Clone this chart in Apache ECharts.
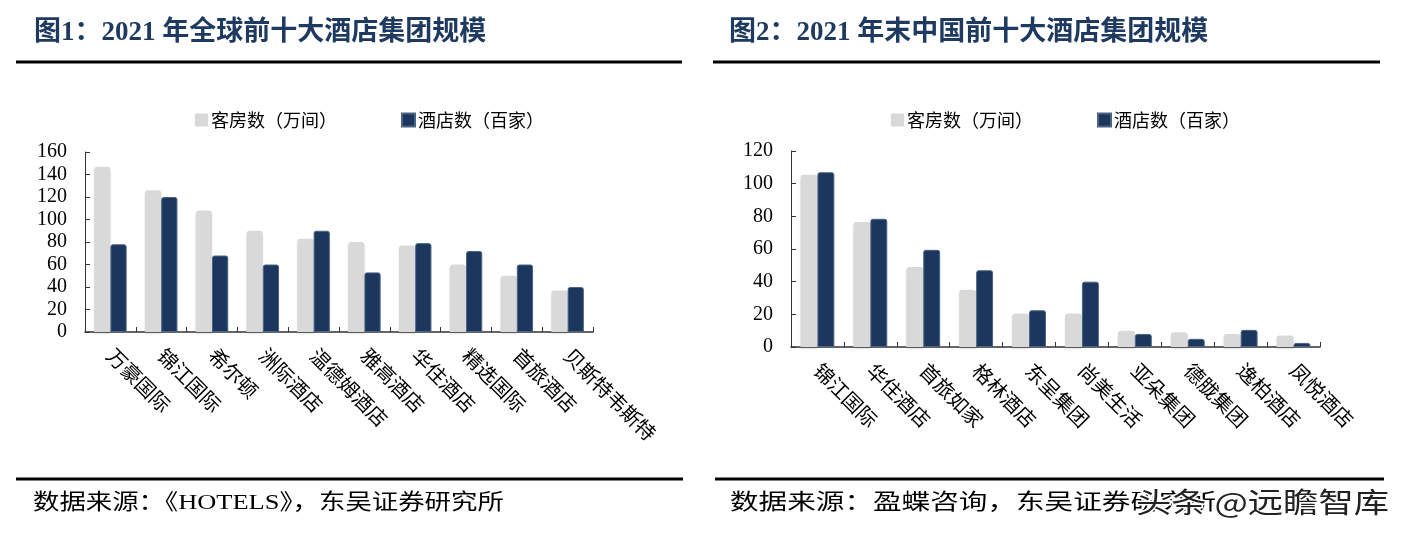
<!DOCTYPE html>
<html>
<head>
<meta charset="utf-8">
<script src="https://cdn.jsdelivr.net/npm/echarts@6/dist/echarts.min.js"></script>
<style>
  html, body { margin: 0; padding: 0; background: #fff; }
  #main { width: 1407px; height: 543px; }
</style>
</head>
<body>
<div id="main"></div>
<script>
// fig 1: global top-10 hotel groups, 2021
const globalGroups = ["万豪国际", "锦江国际", "希尔顿", "洲际酒店", "温德姆酒店", "雅高酒店", "华住酒店", "精选国际", "首旅酒店", "贝斯特韦斯特"];
const globalRooms = [147, 126, 108, 90, 83, 80, 77, 60, 50, 37];   // 万间
const globalHotels = [78, 120, 68, 60, 90, 53, 79, 72, 60, 40];    // 百家

// fig 2: China top-10 hotel groups, end of 2021
const chinaGroups = ["锦江国际", "华住酒店", "首旅如家", "格林酒店", "东呈集团", "尚美生活", "亚朵集团", "德胧集团", "逸柏酒店", "凤悦酒店"];
const chinaRooms = [105.5, 76.5, 49, 35, 20.5, 20.5, 10, 9, 8, 7];
const chinaHotels = [107, 78.5, 59.5, 47, 22.5, 40, 8, 5, 10.5, 2.5];

const globalAxis = { min: 0, max: 160, interval: 20 };
const chinaAxis = { min: 0, max: 120, interval: 20 };

const seriesNames = ["客房数（万间）", "酒店数（百家）"];

const GREY = "#d9d9d9";
const NAVY = "#1b375d";
const TITLE_COLOR = "#1f3a60";
const SERIF = "'Liberation Serif', 'Times New Roman', 'Noto Sans CJK SC', serif";
const CJK = "'Noto Sans CJK SC', 'Liberation Serif', sans-serif";

const myChart = echarts.init(document.getElementById("main"));

function xAxisFor(gridIndex, data) {
  return {
    type: "category",
    gridIndex: gridIndex,
    data: data,
    axisLine: { show: true, lineStyle: { color: "#333", width: 1.5 } },
    axisTick: { show: true, inside: true, length: 5, lineStyle: { color: "#333" } },
    axisLabel: {
      interval: 0,
      rotate: -45,
      margin: 20,
      fontSize: 20,
      color: "#000",
      fontFamily: CJK,
    },
    splitLine: { show: false },
  };
}

function yAxisFor(gridIndex, cfg) {
  return {
    type: "value",
    gridIndex: gridIndex,
    min: cfg.min,
    max: cfg.max,
    interval: cfg.interval,
    axisLine: { show: true, lineStyle: { color: "#333", width: 1 } },
    axisTick: { show: true, inside: true, length: 5, lineStyle: { color: "#333" } },
    axisLabel: { fontSize: 20, color: "#000", fontFamily: SERIF, margin: 18 },
    splitLine: { show: false },
  };
}

function barsFor(axisIndex, rooms, hotels) {
  return [
    {
      name: seriesNames[0],
      type: "bar",
      xAxisIndex: axisIndex,
      yAxisIndex: axisIndex,
      data: rooms,
      barWidth: "32%",
      barGap: "0%",
      itemStyle: {
        color: GREY,
        borderRadius: [3, 3, 0, 0],
        shadowColor: "rgba(0,0,0,0.12)",
        shadowBlur: 2,
        shadowOffsetY: 2,
      },
      z: 2,
    },
    {
      name: seriesNames[1],
      type: "bar",
      xAxisIndex: axisIndex,
      yAxisIndex: axisIndex,
      data: hotels,
      barWidth: "32%",
      itemStyle: {
        color: NAVY,
        borderColor: "#4d6384",
        borderWidth: 1,
        borderRadius: [2, 2, 0, 0],
      },
      z: 3,
    },
  ];
}

function legendFor(left) {
  return {
    left: left,
    top: 106,
    itemWidth: 13,
    itemHeight: 13,
    itemGap: 64,
    icon: "rect",
    data: seriesNames,
    textStyle: { fontSize: 18, color: "#000", fontFamily: CJK, padding: [0, 0, 0, -2] },
  };
}

const options = {
  animation: false,
  backgroundColor: "#fff",
  legend: [legendFor(190), legendFor(886)],
  grid: [
    { left: 85, top: 152, width: 508, height: 180 },
    { left: 791, top: 151, width: 529, height: 196 },
  ],
  xAxis: [xAxisFor(0, globalGroups), xAxisFor(1, chinaGroups)],
  yAxis: [yAxisFor(0, globalAxis), yAxisFor(1, chinaAxis)],
  series: [].concat(barsFor(0, globalRooms, globalHotels), barsFor(1, chinaRooms, chinaHotels)),
  graphic: [
    // titles
    {
      type: "text", left: 34, top: 20,
      style: { text: "图1：2021 年全球前十大酒店集团规模", fill: TITLE_COLOR, font: "bold 27px " + SERIF },
    },
    {
      type: "text", left: 729, top: 20,
      style: { text: "图2：2021 年末中国前十大酒店集团规模", fill: TITLE_COLOR, font: "bold 27px " + SERIF },
    },
    // heavy rules
    { type: "line", shape: { x1: 16, y1: 62, x2: 682, y2: 62 }, style: { stroke: "#000", lineWidth: 3 } },
    { type: "line", shape: { x1: 713, y1: 62, x2: 1380, y2: 62 }, style: { stroke: "#000", lineWidth: 3 } },
    { type: "line", shape: { x1: 16, y1: 479, x2: 683, y2: 479 }, style: { stroke: "#000", lineWidth: 3 } },
    { type: "line", shape: { x1: 715, y1: 479, x2: 1384, y2: 479 }, style: { stroke: "#000", lineWidth: 3 } },
    // sources
    {
      type: "text", x: 33, y: 492, scaleX: 1.2,
      style: { text: "数据来源：《HOTELS》，东吴证券研究所", fill: "#000", font: "22px " + SERIF },
    },
    {
      type: "text", x: 730, y: 492, scaleX: 1.3,
      style: { text: "数据来源：盈蝶咨询，东吴证券研究所", fill: "#000", font: "22px " + SERIF },
    },
    // watermark
    {
      type: "text", x: 1136, y: 488, scaleX: 1.26, z: 100,
      style: {
        text: "头条 @远瞻智库",
        fill: "#222",
        stroke: "#fff",
        lineWidth: 3,
        font: "28px 'Noto Sans CJK SC', sans-serif",
      },
    },
  ],
};

myChart.setOption(options);
</script>
</body>
</html>
